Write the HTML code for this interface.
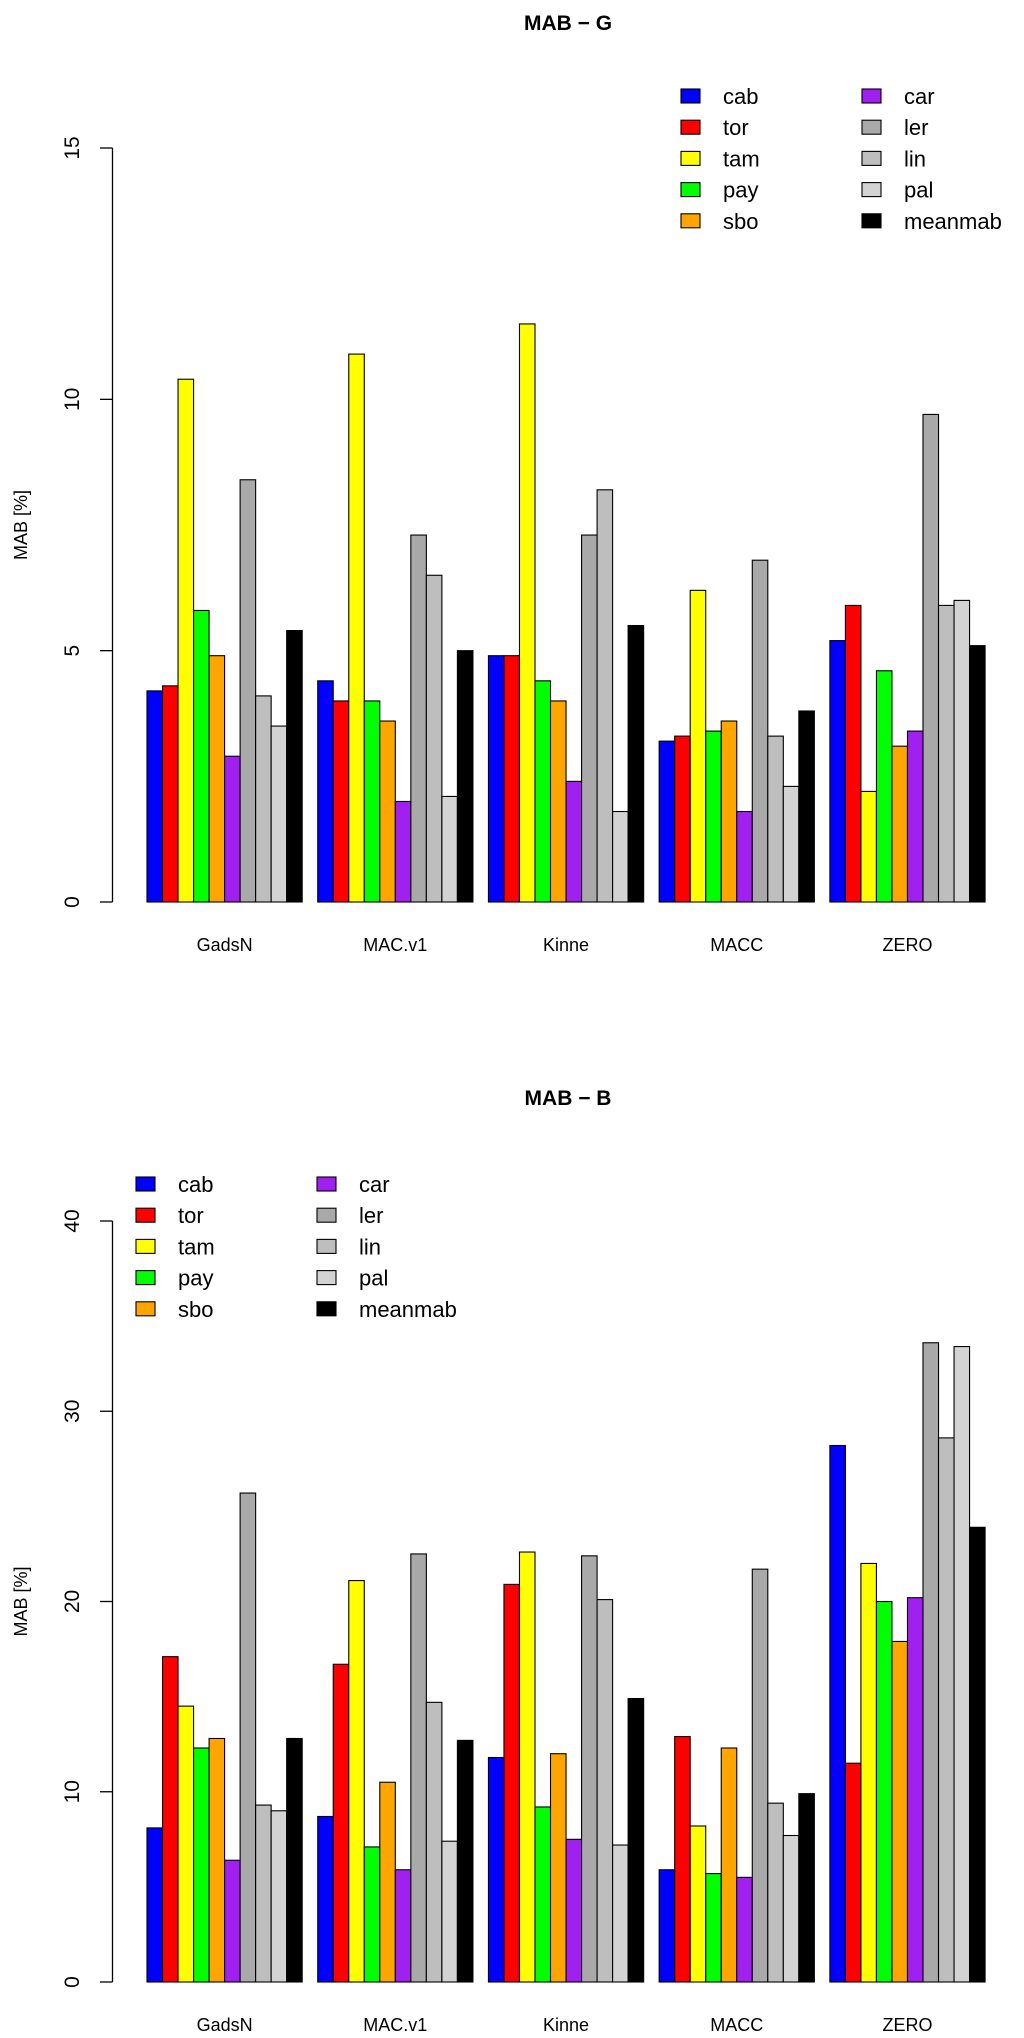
<!DOCTYPE html>
<html><head><meta charset="utf-8"><style>
html,body{margin:0;padding:0;background:#fff;}
svg{display:block;font-family:"Liberation Sans",Arial,sans-serif;}
</style></head><body>
<svg id="chart" width="1024" height="2038" viewBox="0 0 1024 2038"></svg>
<script>
const categories = ["GadsN","MAC.v1","Kinne","MACC","ZERO"];
const seriesNames = ["cab","tor","tam","pay","sbo","car","ler","lin","pal","meanmab"];
const seriesColors = ["#0000FF","#FF0000","#FFFF00","#00FF00","#FFA500","#A020F0","#A9A9A9","#BEBEBE","#D3D3D3","#000000"];
const valuesG = [
  [4.2,4.3,10.4,5.8,4.9,2.9,8.4,4.1,3.5,5.4],
  [4.4,4.0,10.9,4.0,3.6,2.0,7.3,6.5,2.1,5.0],
  [4.9,4.9,11.5,4.4,4.0,2.4,7.3,8.2,1.8,5.5],
  [3.2,3.3,6.2,3.4,3.6,1.8,6.8,3.3,2.3,3.8],
  [5.2,5.9,2.2,4.6,3.1,3.4,9.7,5.9,6.0,5.1]
];
const valuesB = [
  [8.1,17.1,14.5,12.3,12.8,6.4,25.7,9.3,9.0,12.8],
  [8.7,16.7,21.1,7.1,10.5,5.9,22.5,14.7,7.4,12.7],
  [11.8,20.9,22.6,9.2,12.0,7.5,22.4,20.1,7.2,14.9],
  [5.9,12.9,8.2,5.7,12.3,5.5,21.7,9.4,7.7,9.9],
  [28.2,11.5,22.0,20.0,17.9,20.2,33.6,28.6,33.4,23.9]
];
const ticksG = [0,5,10,15];
const ticksB = [0,10,20,30,40];

const NS = "http://www.w3.org/2000/svg";
const svg = document.getElementById("chart");
function mk(tag, attrs, parent, text) {
  const e = document.createElementNS(NS, tag);
  for (const k in attrs) e.setAttribute(k, attrs[k]);
  if (text !== undefined) e.textContent = text;
  (parent || svg).appendChild(e);
  return e;
}

function drawPanel(cfg) {
  const g = mk("g", {});
  
  
  const y = v => cfg.y0 - (v / cfg.vmax) * (cfg.y0 - cfg.yTop);
  const bw = 15.52, x0 = 147;
  const gx = i => x0 + i * 11 * bw;
  const t = mk("text", {x: 568, y: cfg.titleY, "text-anchor": "middle", "font-size": 21, "font-weight": "bold"}, g, cfg.title);
  
  
  const ax = mk("line", {x1: 112.5, x2: 112.5, y1: y(cfg.ticks[0]), y2: y(cfg.ticks[cfg.ticks.length-1]), stroke: "#000", "stroke-width": 1.3}, g);
  
  
  cfg.ticks.forEach(tv => {
    const tl = mk("line", {x1: 100, x2: 112.5, y1: y(tv), y2: y(tv), stroke: "#000", "stroke-width": 1.3}, g);
    
    
    const lab = mk("text", {x: 0, y: 0, "text-anchor": "middle", "font-size": 21, transform: `translate(79,${y(tv)}) rotate(-90)`}, g, String(tv));
    
    
  });
  const yt = mk("text", {x: 0, y: 0, "text-anchor": "middle", "font-size": 18, transform: `translate(27,${(cfg.y0 + y(cfg.ticks[cfg.ticks.length-1]))/2}) rotate(-90)`}, g, "MAB [%]");
  
  
  categories.forEach((c, i) => {
    cfg.values[i].forEach((v, j) => {
      const r = mk("rect", {x: gx(i) + j * bw, y: y(v), width: bw, height: cfg.y0 - y(v), fill: seriesColors[j], stroke: "#000", "stroke-width": 1.1}, g);
      
      
    });
    const xl = mk("text", {x: gx(i) + 5 * bw, y: cfg.labelY, "text-anchor": "middle", "font-size": 18}, g, c);
    
    
  });
  seriesNames.forEach((s, j) => {
    const col = Math.floor(j / 5), row = j % 5;
    const ry = cfg.legY + row * 31.2;
    const bx = cfg.legX[col];
    const lb = mk("rect", {x: bx, y: ry - 7, width: 19, height: 14, fill: seriesColors[j], stroke: "#000", "stroke-width": 1.1}, g);
    
    
    const lt = mk("text", {x: bx + 42, y: ry + 8, "font-size": 22}, g, s);
    
    
  });
}

drawPanel({name: "chart-mab-g", title: "MAB \u2212  G", titleY: 30, y0: 902, yTop: 148, vmax: 15, ticks: ticksG, values: valuesG, labelY: 951, legY: 96, legX: [681, 862]});
drawPanel({name: "chart-mab-b", title: "MAB \u2212  B", titleY: 1105, y0: 1982, yTop: 1221, vmax: 40, ticks: ticksB, values: valuesB, labelY: 2031, legY: 1184, legX: [136, 317]});
</script>
</body></html>
